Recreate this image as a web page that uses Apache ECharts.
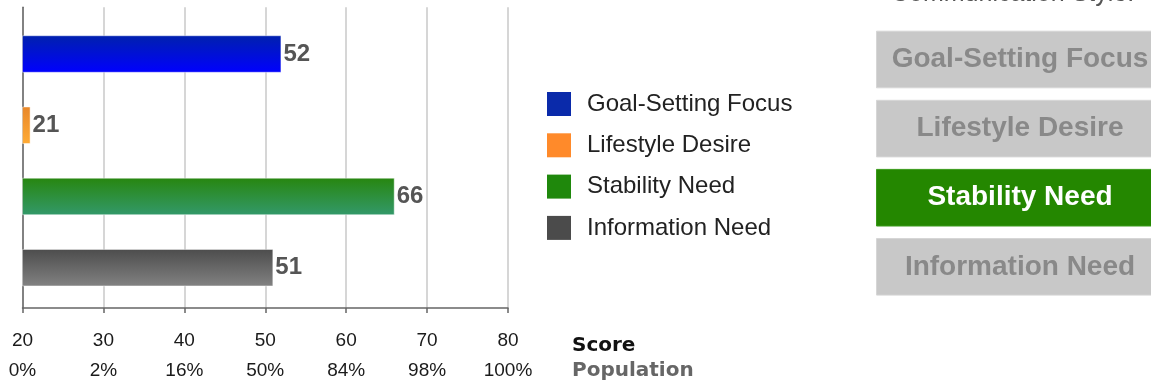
<!DOCTYPE html>
<html>
<head>
<meta charset="utf-8">
<title>Communication Style</title>
<script src="https://cdn.jsdelivr.net/npm/echarts@6/dist/echarts.min.js"></script>
<style>
  html, body { margin: 0; padding: 0; background: #fff; }
  #chart { width: 1151px; height: 386px; }
</style>
</head>
<body>
<div id="chart"></div>
<script>
// Communication style scores
const categories = ['Goal-Setting Focus', 'Lifestyle Desire', 'Stability Need', 'Information Need'];
const scores = [52, 21, 66, 51];

// Score scale and matching population percentiles
const scoreTicks = [20, 30, 40, 50, 60, 70, 80];
const populationTicks = ['0%', '2%', '16%', '50%', '84%', '98%', '100%'];

const panelTitle = 'Communication Style:';

// Bar gradients (top -> bottom) and legend swatches
const barGradients = [
  ['#0021ad', '#0000ff'],
  ['#e8872a', '#ffab35'],
  ['#27860f', '#33996a'],
  ['#4c4c4c', '#828282']
];
const swatchColors = ['#0a2aaa', '#ff8a2a', '#1f880c', '#4b4b4b'];

const FONT = "'Liberation Sans', Arial, sans-serif";

const chart = echarts.init(document.getElementById('chart'), null, { renderer: 'canvas' });

const tickStep = scoreTicks[1] - scoreTicks[0];
const xMin = scoreTicks[0];
const xMax = scoreTicks[scoreTicks.length - 1];

const plotLeft = 22.5;
const plotWidth = 485.5;

// One series per style, each occupying its own category row
const series = categories.map((name, i) => ({
  name: name,
  type: 'bar',
  xAxisIndex: 1,
  yAxisIndex: 1,
  stack: 'styles',
  barWidth: 37.5,
  data: categories.map((_, j) => (j === i ? scores[i] : '-')),
  itemStyle: {
    color: new echarts.graphic.LinearGradient(0, 0, 0, 1, [
      { offset: 0, color: barGradients[i][0] },
      { offset: 1, color: barGradients[i][1] }
    ]),
    borderColor: 'rgba(255,255,255,0.45)',
    borderWidth: 1
  },
  label: {
    show: true,
    position: 'right',
    distance: 2,
    formatter: '{c}',
    fontFamily: "'Liberation Sans Narrow', 'Liberation Sans', sans-serif",
    fontWeight: 'bold',
    fontSize: 24,
    color: '#555'
  },
  emphasis: { disabled: true }
}));

// Right-hand style selector panel
const topIndex = scores.indexOf(Math.max(...scores));
const boxLeft = 876, boxTop = 30.7, boxW = 287, boxH = 56.6, boxStep = 69.1;
const panelGraphics = [{
  type: 'text',
  left: 891,
  top: -18,
  style: {
    text: panelTitle,
    font: '25px ' + FONT,
    fill: '#555'
  }
}];
categories.forEach((name, i) => {
  const active = i === topIndex;
  panelGraphics.push({
    type: 'group',
    left: boxLeft,
    top: boxTop + i * boxStep,
    children: [
      {
        type: 'rect',
        shape: { x: 0, y: 0, width: boxW, height: boxH },
        style: {
          fill: active ? '#248700' : '#c8c8c8',
          stroke: active ? '#3a9a1a' : '#d6d6d6',
          lineWidth: 1
        }
      },
      {
        type: 'text',
        x: 143.5,
        y: boxH / 2,
        style: {
          text: name,
          font: 'bold 28px ' + FONT,
          fill: active ? '#ffffff' : '#898989',
          align: 'center',
          verticalAlign: 'middle'
        }
      }
    ]
  });
});

const option = {
  animation: false,
  backgroundColor: '#ffffff',
  title: [
    {
      text: 'Score',
      left: 572,
      top: 336,
      padding: 0,
      textStyle: { fontFamily: "'DejaVu Sans', sans-serif", fontWeight: 'bold', fontSize: 20, color: '#111' }
    },
    {
      text: 'Population',
      left: 572,
      top: 361,
      padding: 0,
      textStyle: { fontFamily: "'DejaVu Sans', sans-serif", fontWeight: 'bold', fontSize: 20, color: '#666' }
    }
  ],
  legend: {
    orient: 'vertical',
    left: 547,
    top: 92,
    padding: 0,
    itemWidth: 24,
    itemHeight: 24,
    itemGap: 17.3,
    icon: 'rect',
    selectedMode: false,
    textStyle: {
      fontFamily: FONT,
      fontSize: 24,
      color: '#222',
      padding: [0, 0, 0, 11]
    },
    data: categories.map((name, i) => ({
      name: name,
      itemStyle: { color: swatchColors[i], borderWidth: 0 }
    }))
  },
  grid: [
    // full plot frame: axes and grid lines
    { left: plotLeft, width: plotWidth, top: 7.3, height: 307.7 },
    // inner band holding the bars
    { left: plotLeft, width: plotWidth, top: 18.4, height: 284.9 }
  ],
  xAxis: [
    {
      gridIndex: 0,
      type: 'value',
      min: xMin,
      max: xMax,
      interval: tickStep,
      axisLine: { show: true, lineStyle: { color: '#666', width: 1.5 } },
      axisTick: { show: true, length: 5, lineStyle: { color: '#666', width: 1.5 } },
      splitLine: { show: true, lineStyle: { color: '#c8c8c8', width: 1.5 } },
      axisLabel: {
        margin: 18,
        fontFamily: FONT,
        fontSize: 19,
        lineHeight: 30,
        color: '#1a1a1a',
        showMinLabel: true,
        showMaxLabel: true,
        formatter: function (v) {
          const idx = scoreTicks.indexOf(v);
          return idx < 0 ? '' : scoreTicks[idx] + '\n' + populationTicks[idx];
        }
      }
    },
    {
      gridIndex: 1,
      type: 'value',
      min: xMin,
      max: xMax,
      interval: tickStep,
      show: false
    }
  ],
  yAxis: [
    {
      gridIndex: 0,
      type: 'value',
      min: 0,
      max: 1,
      axisLine: { show: true, lineStyle: { color: '#666', width: 1.5 } },
      axisTick: { show: false },
      axisLabel: { show: false },
      splitLine: { show: false }
    },
    {
      gridIndex: 1,
      type: 'category',
      inverse: true,
      data: categories,
      show: false
    }
  ],
  graphic: panelGraphics,
  series: series
};

chart.setOption(option);
</script>
</body>
</html>
